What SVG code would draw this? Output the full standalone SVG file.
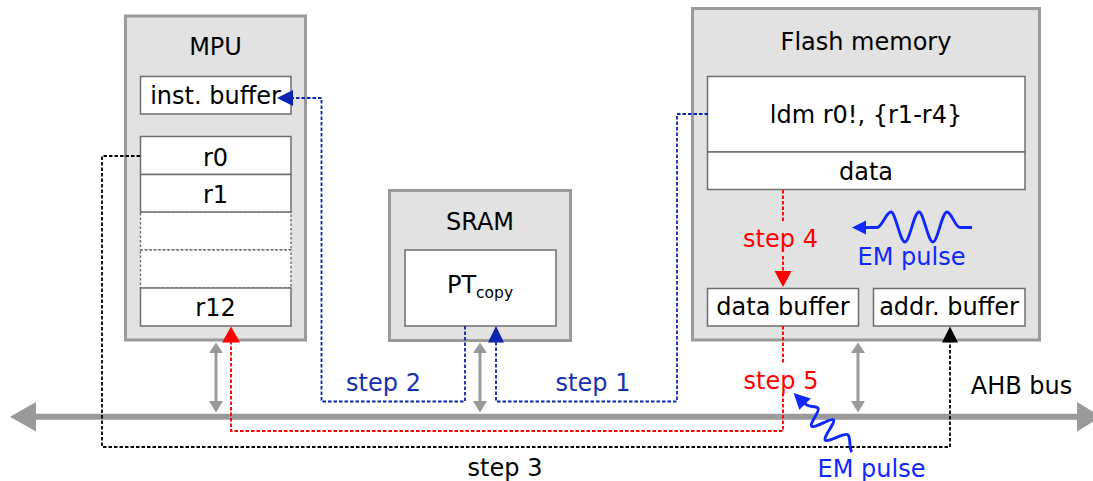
<svg xmlns="http://www.w3.org/2000/svg" width="1093" height="481" viewBox="0 0 1093 481">
  <style>
    text { font-family: "DejaVu Sans", "Liberation Sans", sans-serif; font-size: 24px; text-anchor: middle; fill: #000; }
    .outer { fill: #e2e2e2; stroke: #9a9a9a; stroke-width: 3; }
    .inner { fill: #fff; stroke: #6e6e6e; stroke-width: 1.5; }
    .slot { fill: #fff; stroke: #6e6e6e; stroke-width: 1.4; stroke-dasharray: 2.5 2; }
    .flow { fill: none; stroke-width: 1.8; stroke-dasharray: 3.5 2; }
    .blue { stroke: #0a24b0; }
    .red { stroke: #ff0000; stroke-width: 1.9; }
    .black { stroke: #000; }
    .bus { stroke: #9a9a9a; stroke-width: 6; fill: none; }
    .link { stroke: #9a9a9a; stroke-width: 3; fill: none; }
    .grayhead { fill: #9a9a9a; }
    .em { fill: none; stroke: #0f28ff; stroke-width: 2.9; stroke-linejoin: round; }
    .t-blue { fill: #1530b0; }
    .t-red { fill: #ff0000; }
    .t-em { fill: #0f28ff; }
  </style>

  <!-- MPU -->
  <g id="mpu">
    <rect class="outer" x="125.5" y="16" width="180" height="324"/>
    <text x="215.5" y="54.5">MPU</text>
    <rect class="inner" x="140.5" y="76.5" width="150.5" height="37.5"/>
    <text x="215.5" y="104">inst. buffer</text>
    <rect class="slot" x="140.5" y="212" width="150.5" height="38"/>
    <rect class="slot" x="140.5" y="250" width="150.5" height="38"/>
    <rect class="inner" x="140.5" y="136.5" width="150.5" height="38"/>
    <rect class="inner" x="140.5" y="174.5" width="150.5" height="37.5"/>
    <rect class="inner" x="140.5" y="288" width="150.5" height="38"/>
    <text x="215.5" y="166">r0</text>
    <text x="215.5" y="202.5">r1</text>
    <text x="215.5" y="316">r12</text>
  </g>

  <!-- SRAM -->
  <g id="sram">
    <rect class="outer" x="389.5" y="190.5" width="181" height="150"/>
    <text x="480" y="230">SRAM</text>
    <rect class="inner" x="405" y="250" width="151" height="76"/>
    <text x="480" y="293">PT<tspan font-size="15.5" dy="5">copy</tspan></text>
  </g>

  <!-- Flash memory -->
  <g id="flash">
    <rect class="outer" x="692.5" y="8.5" width="347" height="331.5"/>
    <text x="866" y="49.5">Flash memory</text>
    <rect class="inner" x="707.5" y="76.5" width="317.5" height="75.5"/>
    <text x="866" y="122.5">ldm r0!, {r1-r4}</text>
    <rect class="inner" x="707.5" y="152" width="317.5" height="37.5"/>
    <text x="866" y="179.5">data</text>
    <rect class="inner" x="707.5" y="288.5" width="151" height="37.5"/>
    <text x="783" y="315">data buffer</text>
    <rect class="inner" x="873.5" y="288.5" width="151.5" height="37.5"/>
    <text x="949" y="315">addr. buffer</text>
  </g>

  <!-- AHB bus -->
  <g id="bus">
    <line class="bus" x1="34" y1="416.7" x2="1079" y2="416.7"/>
    <polygon class="grayhead" points="10,416.7 36,402 36,431.5"/>
    <polygon class="grayhead" points="1101,416.7 1077,402 1077,431.5"/>
    <text x="1021.5" y="394">AHB bus</text>
  </g>

  <g id="connectors">
    <!-- bus taps -->
    <g>
      <line class="link" x1="216" y1="352" x2="216" y2="402"/>
      <polygon class="grayhead" points="216,342.5 209,353 223,353"/>
      <polygon class="grayhead" points="216,412.5 209,401 223,401"/>
      <line class="link" x1="480" y1="352" x2="480" y2="402"/>
      <polygon class="grayhead" points="480,342.5 473,353 487,353"/>
      <polygon class="grayhead" points="480,412.5 473,401 487,401"/>
      <line class="link" x1="858" y1="352" x2="858" y2="402"/>
      <polygon class="grayhead" points="858,342.5 851,353 865,353"/>
      <polygon class="grayhead" points="858,412.5 851,401 865,401"/>
    </g>

    <!-- step 1: flash to SRAM -->
    <path class="flow blue" d="M708,114 H677 V401.5 H496 V342"/>
    <polygon fill="#0a24b0" points="496,326 488,342.5 504,342.5"/>
    <text class="t-blue" x="593" y="391">step 1</text>

    <!-- step 2: SRAM to instruction buffer -->
    <path class="flow blue" d="M465,326 V401.5 H321.5 V98 H292"/>
    <polygon fill="#0a24b0" points="277,98 293,90 293,106"/>
    <text class="t-blue" x="383.5" y="391">step 2</text>

    <!-- step 3: r0 to address buffer -->
    <path class="flow black" d="M140,156 H102 V447 H950 V341"/>
    <polygon fill="#000" points="950,326.5 942,342.5 958,342.5"/>
    <text x="505" y="476">step 3</text>

    <!-- step 4: data to data buffer -->
    <path class="flow red" d="M783,190 V222 M783,256 V272"/>
    <polygon fill="#ff0000" points="783,287 774.5,271 791.5,271"/>
    <text class="t-red" x="780.5" y="246.5">step 4</text>

    <!-- step 5: data buffer to r12 -->
    <path class="flow red" d="M783,326 V364 M783,393 V431 H231 V341"/>
    <polygon fill="#ff0000" points="231,326.5 222,342.5 240,342.5"/>
    <text class="t-red" x="781" y="388.5">step 5</text>
  </g>

  <!-- EM pulse on the flash -->
  <g id="em-flash">
    <path class="em" d="M972,227.5 H960 C955,227.5 951.5,212 947,212 C942,212 937.5,242 933,242 C928,242 923.5,212 919,212 C914,212 909.5,242 905,242 C900,242 895.5,212 891,212 C886,212 882,227.5 877,227.5 H864"/>
    <polygon fill="#0f28ff" points="852,227.5 866,220.5 866,234.5"/>
    <text class="t-em" x="911.5" y="265">EM pulse</text>
  </g>

  <!-- EM pulse on the bus -->
  <g id="em-bus">
    <g transform="translate(852,452) rotate(226)">
      <path class="em" d="M0,0 C5,0 10.5,9 15,9 C19.5,9 23,-11 27,-11 C31,-11 32.5,9 36,9 C39.5,9 42.5,-11 46.5,-11 C50.5,-11 51.5,6 55,6 C58.5,6 62,0 66,0 L70,0"/>
      <polygon fill="#0f28ff" points="83,-1 67,-8.5 67,7.5"/>
    </g>
    <text class="t-em" x="871.5" y="476.5">EM pulse</text>
  </g>
</svg>
